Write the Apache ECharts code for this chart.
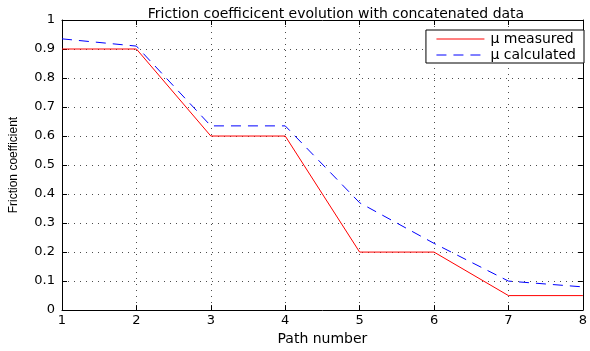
<!DOCTYPE html>
<html>
<head>
<meta charset="utf-8">
<script src="https://cdn.jsdelivr.net/npm/echarts@6/dist/echarts.min.js"></script>
<style>
html,body{margin:0;padding:0;background:#fff;}
#chart{width:590px;height:351px;}
</style>
</head>
<body>
<div id="chart"></div>
<script>
// Path numbers and friction coefficients
const pathNumbers = [1, 2, 3, 4, 5, 6, 7, 8];
const muMeasured = [0.9, 0.9, 0.6, 0.6, 0.2, 0.2, 0.05, 0.05];
const muCalculated = [0.935, 0.91, 0.635, 0.635, 0.37, 0.23, 0.1, 0.08];
const seriesNames = ['\u03bc measured', '\u03bc calculated'];

const FONT = '"DejaVu Sans", Verdana, sans-serif';
const NARROW = '"Liberation Sans", Arial, sans-serif';

const pairs = arr => pathNumbers.map((x, i) => [x, arr[i]]);

const chart = echarts.init(document.getElementById('chart'), null, {renderer: 'canvas'});

const gridLine = {show: true, lineStyle: {color: '#000', type: [1, 5], width: 1, opacity: 0.7}};
const boxLine = {show: true, onZero: false, lineStyle: {color: '#000', width: 1}};
const tick = {show: true, inside: true, length: 5, lineStyle: {color: '#000'}};

chart.setOption({
  animation: false,
  backgroundColor: '#fff',
  title: {
    text: 'Friction coefficicent evolution with concatenated data',
    left: 331, top: 2, textAlign: 'center',
    textStyle: {fontFamily: FONT, fontSize: 14, fontWeight: 'normal', color: '#000'}
  },
  legend: {
    right: 6, top: 30,
    orient: 'vertical',
    itemGap: 2,
    itemWidth: 48, itemHeight: 12,
    padding: [2, 8, 1, 10],
    borderColor: '#000', borderWidth: 1,
    backgroundColor: '#fff',
    itemStyle: {opacity: 0},
    lineStyle: {width: 1},
    textStyle: {fontFamily: FONT, fontSize: 14, color: '#000', padding: [0, 0, 0, 1]},
    data: seriesNames
  },
  grid: {left: 61, right: 2, top: 20, bottom: 31, containLabel: false},
  xAxis: [{
    type: 'value', min: 1, max: 8, interval: 1,
    name: 'Path number', nameLocation: 'middle', nameGap: 19,
    nameTextStyle: {fontFamily: FONT, fontSize: 14, color: '#000'},
    axisLine: boxLine, axisTick: tick,
    axisLabel: {fontFamily: FONT, fontSize: 13, color: '#000', margin: 4},
    splitLine: gridLine
  }, {
    type: 'value', min: 1, max: 8, interval: 1, position: 'top',
    axisLine: boxLine, axisTick: tick,
    axisLabel: {show: false}, splitLine: {show: false}
  }],
  yAxis: [{
    type: 'value', min: 0, max: 1, interval: 0.1,
    name: 'Friction coefficient', nameLocation: 'middle', nameGap: 42, nameRotate: 90,
    nameTextStyle: {fontFamily: NARROW, fontSize: 12, color: '#000'},
    axisLine: boxLine, axisTick: tick,
    axisLabel: {fontFamily: FONT, fontSize: 13, color: '#000', margin: 7},
    splitLine: gridLine
  }, {
    type: 'value', min: 0, max: 1, interval: 0.1, position: 'right',
    axisLine: boxLine, axisTick: tick,
    axisLabel: {show: false}, splitLine: {show: false}
  }],
  series: [{
    name: seriesNames[0], type: 'line', symbol: 'none',
    data: pairs(muMeasured),
    lineStyle: {color: '#ff0000', width: 1},
    itemStyle: {color: '#ff0000'}
  }, {
    name: seriesNames[1], type: 'line', symbol: 'none',
    data: pairs(muCalculated),
    lineStyle: {color: '#0000ff', width: 1, type: [10, 7]},
    itemStyle: {color: '#0000ff'}
  }]
});
</script>
</body>
</html>
